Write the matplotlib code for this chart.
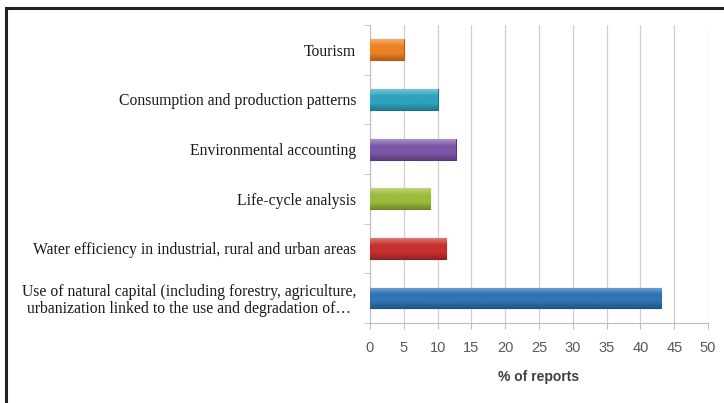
import matplotlib
matplotlib.use("Agg")
import matplotlib.pyplot as plt
import numpy as np
from matplotlib.lines import Line2D
from matplotlib.colors import LinearSegmentedColormap, to_rgb

# --- DATA ---
categories = [
    "Use of natural capital (including forestry, agriculture,\nurbanization linked to the use and degradation of\u2026",
    "Water efficiency in industrial, rural and urban areas",
    "Life-cycle analysis",
    "Environmental accounting",
    "Consumption and production patterns",
    "Tourism",
]
values = [43.1, 11.3, 8.9, 12.7, 10.0, 5.0]
bar_colors = ["#2F74B5", "#C8302E", "#9BBB3B", "#7C56A6", "#2FA3BF", "#EE8122"]
edge_colors = ["#1F4F7E", "#8A1F1D", "#6A8426", "#553A75", "#1F7186", "#B45E14"]
xticks = [0, 5, 10, 15, 20, 25, 30, 35, 40, 45, 50]


def shade(c, f):
    r, g, b = to_rgb(c)
    if f > 0:
        return (r + (1 - r) * f, g + (1 - g) * f, b + (1 - b) * f)
    return (r * (1 + f), g * (1 + f), b * (1 + f))


fig = plt.figure(figsize=(7.24, 4.03), dpi=100)
ax = fig.add_axes([0.511, 0.199, 0.467, 0.739])

ypos = list(range(len(categories)))
bars = ax.barh(ypos, values, height=0.42, color=bar_colors, edgecolor=edge_colors,
               linewidth=0.8, zorder=3)

# soft vertical gradient on each bar (lighter top, darker bottom)
grad = np.linspace(0, 1, 64).reshape(-1, 1)
for patch, c in zip(bars.patches, bar_colors):
    cmap = LinearSegmentedColormap.from_list(
        "g", [shade(c, 0.35), c, c, shade(c, -0.25)])
    x0, y0 = patch.get_x(), patch.get_y()
    w, h = patch.get_width(), patch.get_height()
    im = ax.imshow(grad, cmap=cmap, aspect="auto", origin="upper",
                   extent=[x0, x0 + w, y0, y0 + h], zorder=3.5)
    im.set_clip_path(patch)

ax.set_xlim(0, 50)
ax.set_ylim(-0.5, len(categories) - 0.5)
ax.set_xticks(xticks)
ax.set_xticklabels([str(t) for t in xticks], fontsize=10.5, color="#595959",
                   family="Liberation Sans")
ax.set_yticks(ypos)
ax.set_yticklabels(categories, fontsize=11.3, family="Liberation Serif",
                   color="#1a1a1a", multialignment="center", linespacing=1.05)
ax.tick_params(axis="y", length=0, pad=10)
ax.tick_params(axis="x", length=4, color="#BFBFBF", pad=9)

# minor ticks between categories on the y axis
ax.set_yticks([y + 0.5 for y in ypos[:-1]] + [-0.5, len(categories) - 0.5], minor=True)
ax.tick_params(axis="y", which="minor", length=4, color="#BFBFBF")

ax.grid(axis="x", color="#D0D0D0", linewidth=0.9, zorder=0)
for side in ["top", "right"]:
    ax.spines[side].set_visible(False)
for side in ["left", "bottom"]:
    ax.spines[side].set_color("#BFBFBF")

ax.set_xlabel("% of reports", fontsize=10, fontweight="bold", color="#404040",
              family="Liberation Sans", labelpad=11)

# outer frame (top and left edges only, as in the source)
fig.add_artist(Line2D([0.008, 0.008], [0.0, 0.980], color="#222222", linewidth=2.2))
fig.add_artist(Line2D([0.008, 1.0], [0.980, 0.980], color="#222222", linewidth=2.2))

fig.savefig("out.png", dpi=100)
